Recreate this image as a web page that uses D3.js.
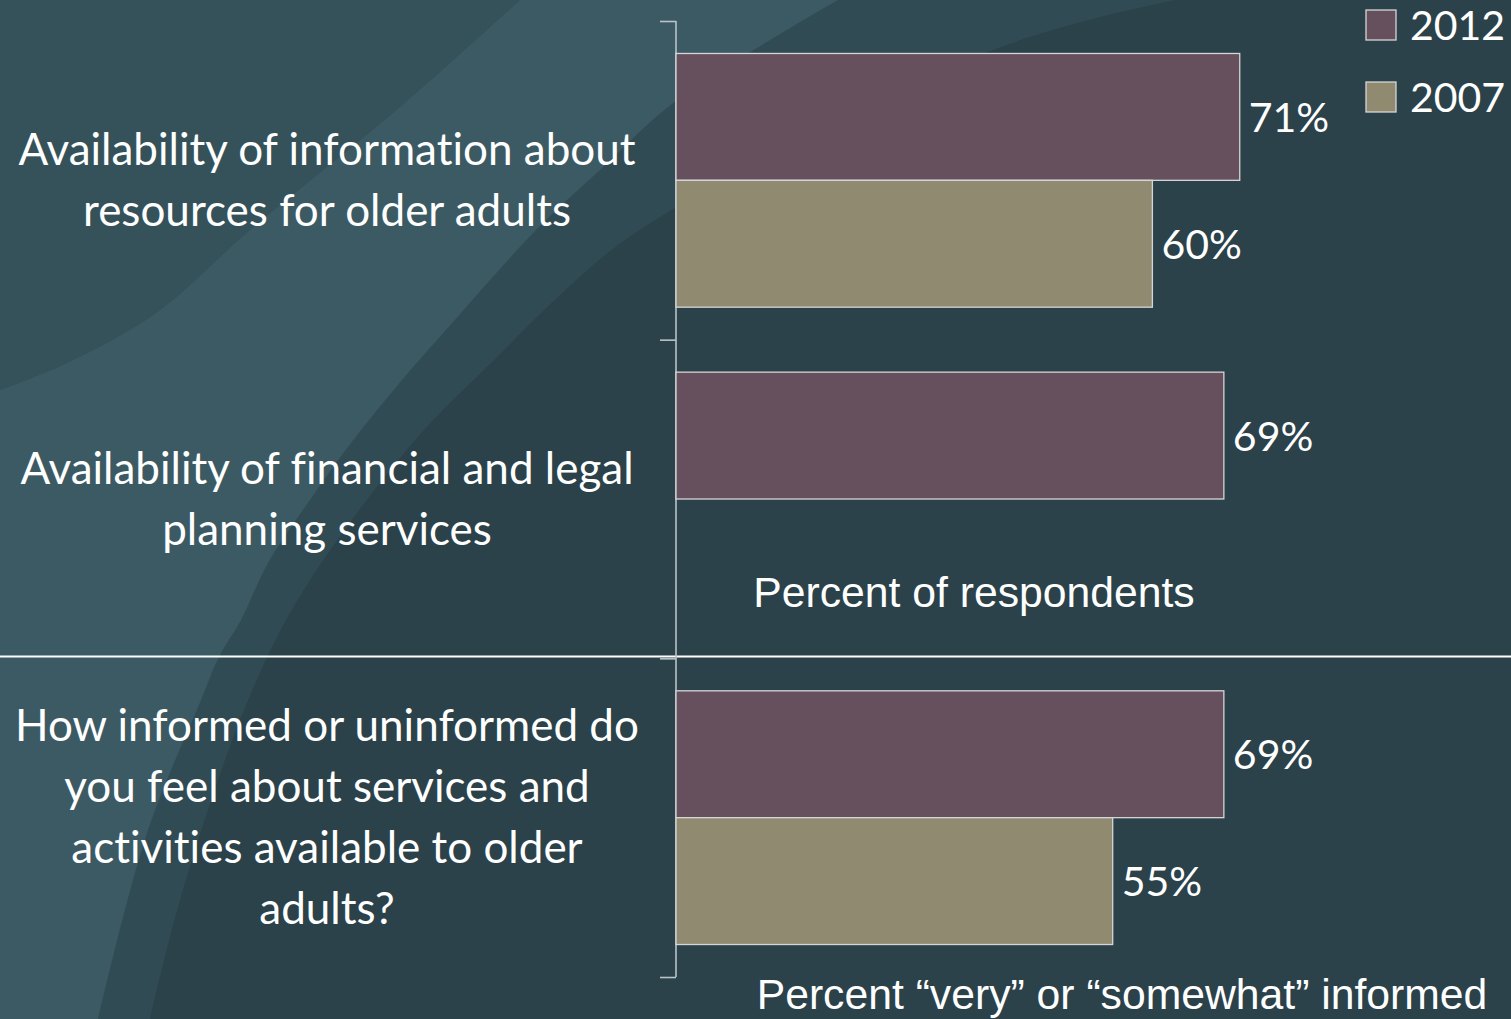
<!DOCTYPE html>
<html>
<head>
<meta charset="utf-8">
<script src="https://cdn.jsdelivr.net/npm/d3@7"></script>
<style>
  html, body { margin: 0; padding: 0; background: #2b424a; overflow: hidden; }
  svg { display: block; }
  text { font-variant-ligatures: none; font-feature-settings: "liga" 0; }
</style>
</head>
<body>
<svg id="chart" width="1511" height="1019"></svg>
<script>
// ---- data ----
const categories = [
  ["Availability of information about", "resources for older adults"],
  ["Availability of financial and legal", "planning services"],
  ["How informed or uninformed do", "you feel about services and", "activities available to older", "adults?"]
];
const seriesNames = ["2012", "2007"];
const values2012 = [71, 69, 69];
const values2007 = [60, null, 55];
const valueLabels2012 = ["71%", "69%", "69%"];
const valueLabels2007 = ["60%", "", "55%"];
const axisTitles = ["Percent of respondents", "Percent \u201Cvery\u201D or \u201Csomewhat\u201D informed"];

const colors = { "2012": "#67505e", "2007": "#908b70" };

const W = 1511, H = 1019;
const svg = d3.select("#chart");

// ---- background decoration (slide template swooshes) ----
svg.append("rect").attr("width", W).attr("height", H).attr("fill", "#2b424a");
const curve = d3.line().curve(d3.curveCatmullRom.alpha(0.5));
const tail = pts => curve(pts).replace(/^M[-\d.,e]+/, "");

const midEdge = [[150,1019],[180,900],[240,720],[290,613],[357,513],[424,430],[491,363],[558,297],[625,240],[800,140],[993,50],[1100,17],[1200,-5]];
svg.append("path")
  .attr("d", "M0,1019L150,1019" + tail(midEdge) + "L0,-5Z")
  .attr("fill", "#314b54");

svg.append("path")
  .attr("d", "M0,0L520,0" + tail([[520,0],[400,107],[250,230],[156,313],[67,363],[0,390]]) + "Z")
  .attr("fill", "#35525b");

const upperEdge = [[520,0],[400,107],[250,230],[156,313],[67,363],[0,390]];
const rightEdge = [[98,1019],[147,833],[201,700],[219,657],[241,620],[268,563],[312,497],[348,447],[402,380],[446,330],[536,230],[600,170],[677,100],[838,0]];
svg.append("path")
  .attr("d", curve(upperEdge) + "L0,1019L98,1019" + tail(rightEdge) + "Z")
  .attr("fill", "#3c5a64");

// ---- scales ----
const x = d3.scaleLinear().domain([0, 100]).range([676, 1470]);
const y = d3.scaleBand().domain(d3.range(categories.length)).range([21, 977]).paddingInner(0).paddingOuter(0);
const yInner = d3.scaleBand().domain(seriesNames).range([0, y.bandwidth()]).paddingInner(0).paddingOuter(0.256);

// ---- separator line ----
svg.append("line")
  .attr("x1", 0).attr("x2", W)
  .attr("y1", 656.5).attr("y2", 656.5)
  .attr("stroke", "#ffffff").attr("stroke-width", 2.2);

// ---- axis ----
const yAxis = d3.axisLeft(y).tickSize(0).tickFormat("");
const gAxis = svg.append("g").attr("transform", `translate(${x(0)},0)`).call(yAxis);
gAxis.selectAll(".tick").remove();
gAxis.select(".domain").attr("stroke", "#b9c4c7").attr("stroke-width", 1.6)
  .attr("d", `M0,${y.range()[0]}V${y.range()[1]}`);
const boundaries = d3.range(categories.length).map(i => y(i)).concat([y.range()[1]]);
gAxis.selectAll(".bnd").data(boundaries).join("line")
  .attr("class", "bnd")
  .attr("x1", -16).attr("x2", 0)
  .attr("y1", d => d + 0.5).attr("y2", d => d + 0.5)
  .attr("stroke", "#b9c4c7").attr("stroke-width", 1.6);

// ---- bars ----
const rows = [];
categories.forEach((c, i) => {
  rows.push({ i, s: "2012", v: values2012[i], label: valueLabels2012[i] });
  rows.push({ i, s: "2007", v: values2007[i], label: valueLabels2007[i] });
});
const valid = rows.filter(d => d.v != null);

svg.append("g").selectAll("rect").data(valid).join("rect")
  .attr("x", x(0))
  .attr("y", d => y(d.i) + yInner(d.s))
  .attr("width", d => x(d.v) - x(0))
  .attr("height", yInner.bandwidth())
  .attr("fill", d => colors[d.s])
  .attr("stroke", "#d6d6d6").attr("stroke-width", 1.3);

const labelFont = "Lato, 'Open Sans', sans-serif";
svg.append("g").selectAll("text").data(valid).join("text")
  .attr("x", d => x(d.v) + 9)
  .attr("y", d => y(d.i) + yInner(d.s) + yInner.bandwidth() / 2 + 15)
  .attr("fill", "#ffffff")
  .style("font-family", labelFont).style("font-size", "41px")
  .text(d => d.label);

// ---- category labels ----
const lineH = 61;
const gCat = svg.append("g");
categories.forEach((lines, i) => {
  const cy = y(i) + y.bandwidth() / 2;
  const t = gCat.append("text")
    .attr("text-anchor", "middle")
    .attr("fill", "#ffffff")
    .style("font-family", labelFont).style("font-size", "44px");
  lines.forEach((ln, j) => {
    t.append("tspan")
      .attr("x", 327)
      .attr("y", cy + (j - (lines.length - 1) / 2) * lineH + 15)
      .text(ln);
  });
});

// ---- axis titles ----
svg.append("text")
  .attr("x", 974).attr("y", 607)
  .attr("text-anchor", "middle").attr("fill", "#ffffff")
  .style("font-family", "'Liberation Sans', Arial, sans-serif").style("font-size", "42.7px")
  .text(axisTitles[0]);
svg.append("text")
  .attr("x", 1122).attr("y", 1009)
  .attr("text-anchor", "middle").attr("fill", "#ffffff")
  .style("font-family", "'Liberation Sans', Arial, sans-serif").style("font-size", "42.7px")
  .text(axisTitles[1]);

// ---- legend ----
const legend = svg.append("g").selectAll("g").data(seriesNames).join("g")
  .attr("transform", (d, i) => `translate(1366,${10 + i * 72})`);
legend.append("rect")
  .attr("width", 30).attr("height", 30)
  .attr("fill", d => colors[d])
  .attr("stroke", "#d6d6d6").attr("stroke-width", 1.3);
legend.append("text")
  .attr("x", 44).attr("y", 30)
  .attr("fill", "#ffffff")
  .style("font-family", labelFont).style("font-size", "41px")
  .text(d => d);
</script>
</body>
</html>
